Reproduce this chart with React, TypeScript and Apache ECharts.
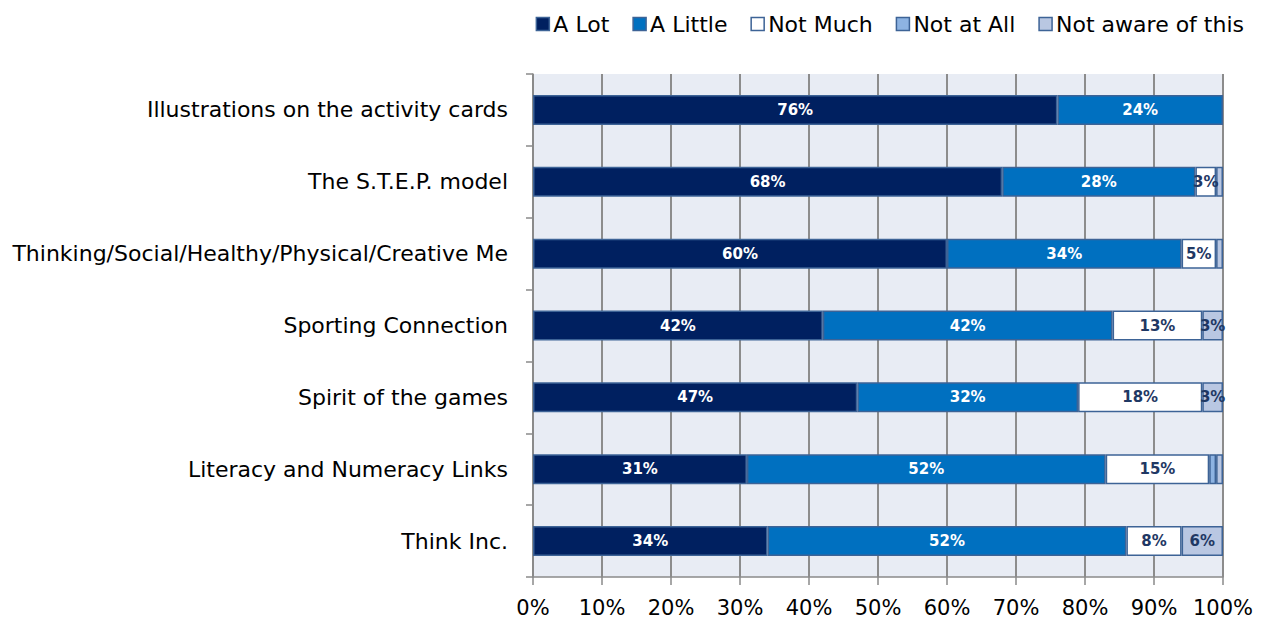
import React, { useEffect, useRef } from "react";
import * as echarts from "echarts";

const categories = [
  "Illustrations on the activity cards",
  "The S.T.E.P. model",
  "Thinking/Social/Healthy/Physical/Creative Me",
  "Sporting Connection",
  "Spirit of the games",
  "Literacy and Numeracy Links",
  "Think Inc.",
];

const seriesNames = ["A Lot", "A Little", "Not Much", "Not at All", "Not aware of this"];

const aLot = [76, 68, 60, 42, 47, 31, 34];
const aLittle = [24, 28, 34, 42, 32, 52, 52];
const notMuch = [0, 3, 5, 13, 18, 15, 8];
const notAtAll = [0, 0, 0, 0, 0, 1, 0];
const notAware = [0, 1, 1, 3, 3, 1, 6];

const xTicks = [0, 10, 20, 30, 40, 50, 60, 70, 80, 90, 100];

const colors = ["#002060", "#0070c0", "#ffffff", "#8db3e2", "#b9c7e2"];
const labelColors = ["#ffffff", "#ffffff", "#1f3864", "#1f3864", "#1f3864"];

const FONT = "'DejaVu Sans', 'Noto Sans', sans-serif";

export default function App() {
  const ref = useRef<HTMLDivElement>(null);
  useEffect(() => {
    if (!ref.current) return;
    const chart = echarts.init(ref.current, null, { renderer: "svg" });
    const all = [aLot, aLittle, notMuch, notAtAll, notAware];
    chart.setOption({
      animation: false,
      textStyle: { fontFamily: FONT },
      legend: {
        data: seriesNames,
        top: 8,
        right: 14,
        icon: "rect",
        itemWidth: 13,
        itemHeight: 13,
        itemGap: 23,
        textStyle: { fontSize: 22, color: "#000", fontFamily: FONT, padding: [0, 0, 0, -1] },
        itemStyle: { borderColor: "#3d6396", borderWidth: 1.5 },
      },
      grid: {
        left: 533,
        right: 40,
        top: 74,
        bottom: 47,
        show: true,
        backgroundColor: "#e8ecf4",
        borderWidth: 0,
      },
      xAxis: {
        type: "value",
        min: xTicks[0],
        max: xTicks[xTicks.length - 1],
        interval: 10,
        axisLine: { show: true, lineStyle: { color: "#8a8a8a", width: 1.5 } },
        axisTick: { show: true, length: 8, lineStyle: { color: "#8a8a8a", width: 1.5 } },
        axisLabel: {
          formatter: "{value}%",
          fontSize: 21,
          color: "#000",
          margin: 20,
          fontFamily: FONT,
        },
        splitLine: { show: true, lineStyle: { color: "#8c8c8c", width: 2 } },
      },
      yAxis: {
        type: "category",
        data: categories,
        inverse: true,
        axisLine: { show: true, lineStyle: { color: "#8a8a8a", width: 1.5 } },
        axisTick: { show: true, length: 7, lineStyle: { color: "#8a8a8a", width: 1.5 } },
        axisLabel: { fontSize: 22, color: "#000", margin: 25, fontFamily: FONT },
        splitLine: { show: false },
      },
      series: seriesNames.map((name, i) => ({
        name,
        type: "bar",
        stack: "total",
        barWidth: 30,
        data: all[i].map((v) => (v === 0 ? null : v)),
        itemStyle: { color: colors[i], borderColor: "#3d6396", borderWidth: 1.5 },
        label: {
          show: true,
          position: "inside",
          color: labelColors[i],
          fontWeight: "bold",
          fontSize: 15,
          fontFamily: FONT,
          formatter: (p: any) => (p.value >= 3 ? p.value + "%" : ""),
        },
      })),
    });
    return () => chart.dispose();
  }, []);
  return (
    <div
      ref={ref}
      style={{ position: "fixed", left: 0, top: 0, width: 1263, height: 624, background: "#fff" }}
    />
  );
}
